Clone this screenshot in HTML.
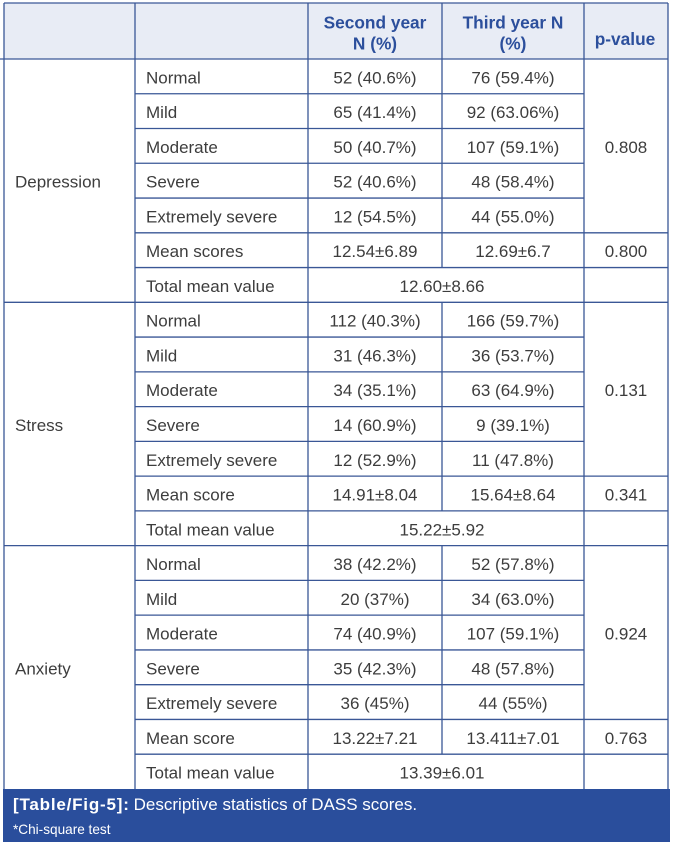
<!DOCTYPE html>
<html>
<head>
<meta charset="utf-8">
<style>
  html,body{margin:0;padding:0;background:#ffffff;}
  body{width:673px;height:846px;overflow:hidden;}
  svg{display:block;}
  .t{font-family:"Liberation Sans",Arial,sans-serif;font-size:17px;fill:#3d3d3d;}
  .c{text-anchor:middle;}
  .h{font-family:"Liberation Sans",Arial,sans-serif;font-size:17.3px;font-weight:bold;fill:#2c4f9c;text-anchor:middle;}
  .ln{stroke:#3a5796;stroke-width:1.3;fill:none;}
</style>
</head>
<body>
<svg width="673" height="846" viewBox="0 0 673 846" xmlns="http://www.w3.org/2000/svg">
  <!-- header background -->
  <rect x="4" y="3" width="664" height="56" fill="#e8ecf5"/>
  <!-- caption -->
  <rect x="3" y="789" width="667" height="53" fill="#2a4e9c"/>

  <!-- horizontal lines -->
  <g class="ln">
    <line x1="4" y1="3" x2="668" y2="3"/>
    <line x1="0" y1="59" x2="668" y2="59"/>
    <!-- Depression block -->
    <line x1="135" y1="93.76" x2="584" y2="93.76"/>
    <line x1="135" y1="128.52" x2="584" y2="128.52"/>
    <line x1="135" y1="163.28" x2="584" y2="163.28"/>
    <line x1="135" y1="198.04" x2="584" y2="198.04"/>
    <line x1="135" y1="232.8" x2="668" y2="232.8"/>
    <line x1="135" y1="267.56" x2="668" y2="267.56"/>
    <line x1="4" y1="302.32" x2="668" y2="302.32"/>
    <!-- Stress block -->
    <line x1="135" y1="337.08" x2="584" y2="337.08"/>
    <line x1="135" y1="371.84" x2="584" y2="371.84"/>
    <line x1="135" y1="406.6" x2="584" y2="406.6"/>
    <line x1="135" y1="441.36" x2="584" y2="441.36"/>
    <line x1="135" y1="476.12" x2="668" y2="476.12"/>
    <line x1="135" y1="510.88" x2="668" y2="510.88"/>
    <line x1="4" y1="545.64" x2="668" y2="545.64"/>
    <!-- Anxiety block -->
    <line x1="135" y1="580.4" x2="584" y2="580.4"/>
    <line x1="135" y1="615.16" x2="584" y2="615.16"/>
    <line x1="135" y1="649.92" x2="584" y2="649.92"/>
    <line x1="135" y1="684.68" x2="584" y2="684.68"/>
    <line x1="135" y1="719.44" x2="668" y2="719.44"/>
    <line x1="135" y1="754.2" x2="668" y2="754.2"/>

    <!-- vertical lines -->
    <line x1="4" y1="3" x2="4" y2="789"/>
    <line x1="135" y1="3" x2="135" y2="789"/>
    <line x1="308" y1="3" x2="308" y2="789"/>
    <line x1="442" y1="3" x2="442" y2="267.56"/>
    <line x1="442" y1="302.32" x2="442" y2="510.88"/>
    <line x1="442" y1="545.64" x2="442" y2="754.2"/>
    <line x1="584" y1="3" x2="584" y2="789"/>
    <line x1="668" y1="3" x2="668" y2="789"/>
  </g>

  <!-- header text -->
  <text class="h" x="375" y="28.3">Second year</text>
  <text class="h" x="375" y="49.5">N (%)</text>
  <text class="h" x="513" y="28.3">Third year N</text>
  <text class="h" x="513" y="49.5">(%)</text>
  <text class="h" x="625" y="45">p-value</text>

  <!-- block labels -->
  <text class="t" x="15" y="187.7">Depression</text>
  <text class="t" x="15" y="431">Stress</text>
  <text class="t" x="15" y="674.3">Anxiety</text>

  <!-- Depression rows -->
  <text class="t" x="146" y="83.4">Normal</text>
  <text class="t c" x="375" y="83.4">52 (40.6%)</text>
  <text class="t c" x="513" y="83.4">76 (59.4%)</text>

  <text class="t" x="146" y="118.2">Mild</text>
  <text class="t c" x="375" y="118.2">65 (41.4%)</text>
  <text class="t c" x="513" y="118.2">92 (63.06%)</text>

  <text class="t" x="146" y="152.9">Moderate</text>
  <text class="t c" x="375" y="152.9">50 (40.7%)</text>
  <text class="t c" x="513" y="152.9">107 (59.1%)</text>
  <text class="t c" x="626" y="152.9">0.808</text>

  <text class="t" x="146" y="187.7">Severe</text>
  <text class="t c" x="375" y="187.7">52 (40.6%)</text>
  <text class="t c" x="513" y="187.7">48 (58.4%)</text>

  <text class="t" x="146" y="222.4">Extremely severe</text>
  <text class="t c" x="375" y="222.4">12 (54.5%)</text>
  <text class="t c" x="513" y="222.4">44 (55.0%)</text>

  <text class="t" x="146" y="257.2">Mean scores</text>
  <text class="t c" x="375" y="257.2">12.54±6.89</text>
  <text class="t c" x="513" y="257.2">12.69±6.7</text>
  <text class="t c" x="626" y="257.2">0.800</text>

  <text class="t" x="146" y="292">Total mean value</text>
  <text class="t c" x="442" y="292">12.60±8.66</text>

  <!-- Stress rows -->
  <text class="t" x="146" y="326.7">Normal</text>
  <text class="t c" x="375" y="326.7">112 (40.3%)</text>
  <text class="t c" x="513" y="326.7">166 (59.7%)</text>

  <text class="t" x="146" y="361.5">Mild</text>
  <text class="t c" x="375" y="361.5">31 (46.3%)</text>
  <text class="t c" x="513" y="361.5">36 (53.7%)</text>

  <text class="t" x="146" y="396.2">Moderate</text>
  <text class="t c" x="375" y="396.2">34 (35.1%)</text>
  <text class="t c" x="513" y="396.2">63 (64.9%)</text>
  <text class="t c" x="626" y="396.2">0.131</text>

  <text class="t" x="146" y="431">Severe</text>
  <text class="t c" x="375" y="431">14 (60.9%)</text>
  <text class="t c" x="513" y="431">9 (39.1%)</text>

  <text class="t" x="146" y="465.8">Extremely severe</text>
  <text class="t c" x="375" y="465.8">12 (52.9%)</text>
  <text class="t c" x="513" y="465.8">11 (47.8%)</text>

  <text class="t" x="146" y="500.5">Mean score</text>
  <text class="t c" x="375" y="500.5">14.91±8.04</text>
  <text class="t c" x="513" y="500.5">15.64±8.64</text>
  <text class="t c" x="626" y="500.5">0.341</text>

  <text class="t" x="146" y="535.3">Total mean value</text>
  <text class="t c" x="442" y="535.3">15.22±5.92</text>

  <!-- Anxiety rows -->
  <text class="t" x="146" y="570">Normal</text>
  <text class="t c" x="375" y="570">38 (42.2%)</text>
  <text class="t c" x="513" y="570">52 (57.8%)</text>

  <text class="t" x="146" y="604.8">Mild</text>
  <text class="t c" x="375" y="604.8">20 (37%)</text>
  <text class="t c" x="513" y="604.8">34 (63.0%)</text>

  <text class="t" x="146" y="639.6">Moderate</text>
  <text class="t c" x="375" y="639.6">74 (40.9%)</text>
  <text class="t c" x="513" y="639.6">107 (59.1%)</text>
  <text class="t c" x="626" y="639.6">0.924</text>

  <text class="t" x="146" y="674.3">Severe</text>
  <text class="t c" x="375" y="674.3">35 (42.3%)</text>
  <text class="t c" x="513" y="674.3">48 (57.8%)</text>

  <text class="t" x="146" y="709.1">Extremely severe</text>
  <text class="t c" x="375" y="709.1">36 (45%)</text>
  <text class="t c" x="513" y="709.1">44 (55%)</text>

  <text class="t" x="146" y="743.8">Mean score</text>
  <text class="t c" x="375" y="743.8">13.22±7.21</text>
  <text class="t c" x="513" y="743.8">13.411±7.01</text>
  <text class="t c" x="626" y="743.8">0.763</text>

  <text class="t" x="146" y="778.6">Total mean value</text>
  <text class="t c" x="442" y="778.6">13.39±6.01</text>

  <!-- caption text -->
  <text x="13" y="810" font-family="'Liberation Sans',Arial,sans-serif" font-size="17" fill="#ffffff"><tspan font-weight="bold" letter-spacing="0.8">[Table/Fig-5]:</tspan><tspan dx="4">Descriptive statistics of DASS scores.</tspan></text>
  <text x="13" y="834" font-family="'Liberation Sans',Arial,sans-serif" font-size="13.6" fill="#ffffff">*Chi-square test</text>
</svg>
</body>
</html>
